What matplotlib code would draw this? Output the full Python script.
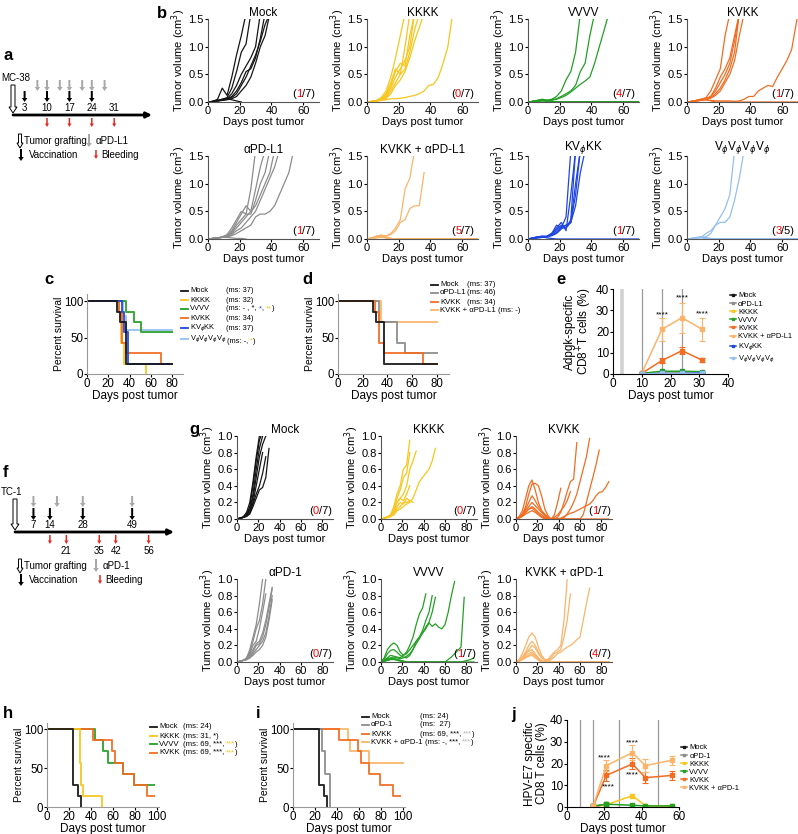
import matplotlib
matplotlib.use("Agg")
import matplotlib.pyplot as plt
from matplotlib.patches import FancyArrow
from matplotlib.lines import Line2D

plt.rcParams['font.family'] = ['Liberation Sans', 'DejaVu Sans']
plt.rcParams['font.size'] = 8
plt.rcParams['axes.linewidth'] = 0.8
plt.rcParams['xtick.major.size'] = 2
plt.rcParams['ytick.major.size'] = 2
plt.rcParams['xtick.major.pad'] = 1.2
plt.rcParams['ytick.major.pad'] = 1.2
plt.rcParams['axes.labelpad'] = 0.8

W, H = 798, 834

# colours
BLACK = '#151515'
YEL = '#f8c61c'
GRN = '#23a023'
ORG = '#f26c22'
GRY = '#8c8c8c'
LORG = '#fbb46a'
BLU = '#1f45e0'
LBLU = '#95bff0'

# ---------------- schematic a (MC-38) ----------------
A_VACC = [3, 10, 17, 24]
A_ANTI = [7, 10, 14, 17, 21, 24, 28]
A_BLEED = [10, 17, 24, 31]
A_LABELS = [3, 10, 17, 24, 31]

# ---------------- schematic f (TC-1) ----------------
F_VACC = [7, 14, 28, 49]
F_ANTI = [7, 17, 28, 49]
F_BLEED = [14, 21, 35, 42, 56]
F_BLEED_LABELS = [21, 35, 42, 56]

# ---------------- panel b : MC-38 tumour growth ----------------
B_DAYS = [0, 3, 6, 9, 12, 15, 18, 21, 24, 27, 30, 33, 36, 39, 42, 45, 48, 51, 54, 57, 60, 63, 66, 70]

MOCK_B = [
    [0, 0.01, 0.05, 0.25, 0.12, 0.45, 0.85, 1.2, 1.6],
    [0, 0.01, 0.03, 0.05, 0.08, 0.25, 0.55, 0.9, 1.05, 1.6],
    [0, 0.01, 0.02, 0.04, 0.06, 0.15, 0.3, 0.5, 0.65, 0.8, 1.0, 1.6],
    [0, 0.01, 0.02, 0.04, 0.06, 0.1, 0.2, 0.35, 0.55, 0.6, 0.8, 1.15, 1.6],
    [0, 0.01, 0.02, 0.03, 0.05, 0.08, 0.15, 0.3, 0.45, 0.65, 0.85, 1.1, 1.4, 1.6],
    [0, 0.01, 0.02, 0.03, 0.04, 0.06, 0.1, 0.2, 0.3, 0.45, 0.7, 1.0, 1.2, 1.6],
    [0, 0.01, 0.03, 0.05, 0.06, 0.04, 0.02, 0.0],
]
KKKK_B = [
    [0, 0.01, 0.03, 0.08, 0.2, 0.45, 0.8, 1.2, 1.6],
    [0, 0.01, 0.02, 0.06, 0.15, 0.35, 0.6, 0.5, 1.0, 1.6],
    [0, 0.01, 0.02, 0.05, 0.12, 0.3, 0.55, 0.7, 0.65, 1.2, 1.6],
    [0, 0.01, 0.02, 0.04, 0.1, 0.25, 0.45, 0.6, 0.75, 1.0, 1.6],
    [0, 0.01, 0.02, 0.04, 0.08, 0.2, 0.35, 0.5, 0.6, 0.9, 1.3, 1.6],
    [0, 0.01, 0.02, 0.03, 0.06, 0.15, 0.3, 0.4, 0.55, 0.8, 1.1, 1.35, 1.6],
    [0, 0.01, 0.02, 0.03, 0.04, 0.06, 0.06, 0.07, 0.08, 0.1, 0.12, 0.15, 0.2, 0.3, 0.32, 0.45, 0.7, 1.0, 1.6],
]
VVVV_B = [
    [0, 0.01, 0.03, 0.04, 0.03, 0.05, 0.1, 0.2, 0.4, 0.55, 0.9, 1.6],
    [0, 0.01, 0.02, 0.03, 0.03, 0.04, 0.06, 0.1, 0.15, 0.2, 0.3, 0.55, 0.7, 1.2, 1.6],
    [0, 0.01, 0.02, 0.02, 0.03, 0.03, 0.05, 0.08, 0.12, 0.18, 0.25, 0.32, 0.38, 0.45, 0.7, 1.0, 1.3, 1.6],
    [0, 0.01, 0.03, 0.05, 0.03, 0.01, 0, 0, 0, 0, 0, 0, 0, 0, 0, 0, 0, 0, 0, 0, 0, 0, 0, 0],
    [0, 0.01, 0.02, 0.04, 0.02, 0.01, 0, 0, 0, 0, 0, 0, 0, 0, 0, 0, 0, 0, 0, 0, 0, 0, 0, 0],
    [0, 0.01, 0.02, 0.03, 0.02, 0.01, 0, 0, 0, 0, 0, 0, 0, 0, 0, 0, 0, 0, 0, 0, 0, 0, 0, 0],
    [0, 0.01, 0.01, 0.02, 0.01, 0, 0, 0, 0, 0, 0, 0, 0, 0, 0, 0, 0, 0, 0, 0, 0, 0, 0, 0],
]
KVKK_B = [
    [0, 0.01, 0.03, 0.05, 0.08, 0.2, 0.4, 0.6, 1.2, 1.6],
    [0, 0.01, 0.03, 0.05, 0.06, 0.1, 0.25, 0.45, 0.6, 0.8, 1.2, 1.6],
    [0, 0.01, 0.02, 0.04, 0.06, 0.1, 0.2, 0.35, 0.5, 0.7, 1.1, 1.6],
    [0, 0.01, 0.02, 0.04, 0.05, 0.08, 0.15, 0.25, 0.4, 0.6, 0.9, 1.6],
    [0, 0.01, 0.02, 0.03, 0.05, 0.07, 0.12, 0.2, 0.35, 0.5, 0.75, 1.2, 1.6],
    [0, 0.01, 0.02, 0.03, 0.04, 0.03, 0.02, 0.02, 0.02, 0.02, 0.01, 0.02, 0.05, 0.1, 0.1, 0.2, 0.25, 0.3, 0.28, 0.45, 0.6, 0.75, 0.95, 1.6],
    [0, 0.01, 0.03, 0.05, 0.04, 0.02, 0, 0, 0, 0, 0, 0, 0, 0, 0, 0, 0, 0, 0, 0, 0, 0, 0, 0],
]
APDL1_B = [
    [0, 0.01, 0.02, 0.04, 0.08, 0.2, 0.35, 0.5, 0.45, 0.9, 1.6],
    [0, 0.01, 0.02, 0.03, 0.06, 0.15, 0.3, 0.45, 0.6, 0.5, 0.9, 1.3, 1.6],
    [0, 0.01, 0.02, 0.03, 0.05, 0.12, 0.25, 0.35, 0.45, 0.45, 0.7, 1.0, 1.2, 1.6],
    [0, 0.01, 0.02, 0.03, 0.05, 0.1, 0.2, 0.3, 0.4, 0.5, 0.6, 0.8, 1.0, 1.2, 1.6],
    [0, 0.01, 0.02, 0.03, 0.04, 0.08, 0.15, 0.2, 0.3, 0.4, 0.5, 0.7, 0.9, 1.1, 1.3, 1.6],
    [0, 0.01, 0.02, 0.03, 0.04, 0.06, 0.1, 0.15, 0.2, 0.25, 0.4, 0.45, 0.45, 0.5, 0.6, 0.8, 1.0, 1.2, 1.6],
    [0, 0.01, 0.02, 0.03, 0.03, 0.02, 0.01, 0.01, 0.0],
]
KPDL1_B = [
    [0, 0.02, 0.05, 0.07, 0.05, 0.1, 0.2, 0.35, 0.9, 1.1, 1.6],
    [0, 0.02, 0.04, 0.06, 0.05, 0.08, 0.15, 0.3, 0.35, 0.55, 0.6, 0.6, 1.2],
    [0, 0.02, 0.05, 0.07, 0.04, 0.01, 0, 0, 0, 0, 0, 0, 0, 0, 0, 0, 0, 0, 0, 0, 0, 0, 0, 0],
    [0, 0.02, 0.04, 0.06, 0.03, 0.01, 0, 0, 0, 0, 0, 0, 0, 0, 0, 0, 0, 0, 0, 0, 0, 0, 0, 0],
    [0, 0.01, 0.03, 0.05, 0.03, 0.01, 0, 0, 0, 0, 0, 0, 0, 0, 0, 0, 0, 0, 0, 0, 0, 0, 0, 0],
    [0, 0.01, 0.03, 0.04, 0.02, 0, 0, 0, 0, 0, 0, 0, 0, 0, 0, 0, 0, 0, 0, 0, 0, 0, 0, 0],
    [0, 0.01, 0.02, 0.03, 0.02, 0, 0, 0, 0, 0, 0, 0, 0, 0, 0, 0, 0, 0, 0, 0, 0, 0, 0, 0],
]
KVPKK_B = [
    [0, 0.02, 0.04, 0.05, 0.04, 0.1, 0.25, 0.2, 0.4, 1.6],
    [0, 0.02, 0.04, 0.05, 0.05, 0.1, 0.2, 0.3, 0.15, 0.8, 1.6],
    [0, 0.02, 0.03, 0.04, 0.05, 0.1, 0.18, 0.25, 0.2, 0.35, 1.6],
    [0, 0.01, 0.03, 0.04, 0.04, 0.08, 0.15, 0.22, 0.25, 0.3, 1.0, 1.6],
    [0, 0.01, 0.02, 0.03, 0.04, 0.07, 0.12, 0.2, 0.2, 0.3, 0.8, 1.6],
    [0, 0.01, 0.02, 0.03, 0.04, 0.06, 0.1, 0.18, 0.25, 0.3, 0.6, 1.2, 1.6],
    [0, 0.01, 0.03, 0.04, 0.02, 0.01, 0, 0, 0, 0, 0, 0, 0, 0, 0, 0, 0, 0, 0, 0, 0, 0, 0, 0],
]
VPVP_B = [
    [0, 0.01, 0.02, 0.03, 0.1, 0.15, 0.25, 0.4, 0.55, 0.8, 1.6],
    [0, 0.01, 0.02, 0.03, 0.04, 0.1, 0.25, 0.3, 0.3, 0.4, 0.7, 1.1, 1.6],
    [0, 0.01, 0.03, 0.04, 0.02, 0.01, 0, 0, 0, 0, 0, 0, 0, 0, 0, 0, 0, 0, 0, 0, 0, 0, 0, 0],
    [0, 0.01, 0.02, 0.03, 0.02, 0, 0, 0, 0, 0, 0, 0, 0, 0, 0, 0, 0, 0, 0, 0, 0, 0, 0, 0],
    [0, 0.01, 0.02, 0.02, 0.01, 0, 0, 0, 0, 0, 0, 0, 0, 0, 0, 0, 0, 0, 0, 0, 0, 0, 0, 0],
]

# ---------------- panel g : TC-1 tumour growth ----------------
G_DAYS = [0, 3, 6, 9, 12, 15, 18, 21, 24, 27, 30, 33, 36, 39, 42, 45, 48, 51, 54, 57,
          60, 63, 66, 69, 72, 75, 78, 81, 84, 87]

MOCK_G = [
    [0, 0.01, 0.03, 0.08, 0.2, 0.45, 0.75, 1.0],
    [0, 0.01, 0.02, 0.06, 0.15, 0.4, 0.7, 0.95, 1.05],
    [0, 0.01, 0.02, 0.05, 0.12, 0.3, 0.6, 0.85, 1.0],
    [0, 0.01, 0.02, 0.05, 0.1, 0.25, 0.5, 0.75, 0.9, 1.0],
    [0, 0.01, 0.02, 0.04, 0.08, 0.2, 0.4, 0.6, 0.8],
    [0, 0.01, 0.02, 0.04, 0.08, 0.18, 0.3, 0.4, 0.55, 0.75],
    [0, 0.01, 0.02, 0.03, 0.06, 0.15, 0.25, 0.35, 0.38, 0.5, 0.85],
]
KKKK_G = [
    [0, 0.01, 0.02, 0.05, 0.15, 0.3, 0.4, 0.6, 0.65, 0.95],
    [0, 0.01, 0.02, 0.04, 0.1, 0.25, 0.35, 0.5, 0.55, 0.8],
    [0, 0.01, 0.03, 0.05, 0.1, 0.2, 0.25, 0.3, 0.4, 0.6, 0.7, 0.82],
    [0, 0.01, 0.02, 0.04, 0.1, 0.2, 0.25, 0.22, 0.3, 0.4],
    [0, 0.01, 0.02, 0.03, 0.08, 0.15, 0.2, 0.18, 0.25, 0.22],
    [0, 0.01, 0.02, 0.03, 0.06, 0.12, 0.15, 0.2, 0.2, 0.22, 0.2],
    [0, 0.01, 0.02, 0.03, 0.05, 0.1, 0.12, 0.15, 0.18, 0.2, 0.25, 0.35, 0.45, 0.5, 0.55, 0.6, 0.7, 0.85],
]
KVKK_G = [
    [0, 0.03, 0.1, 0.25, 0.4, 0.47, 0.35, 0.2, 0.1, 0.04, 0.01, 0, 0.05, 0.2, 0.37],
    [0, 0.02, 0.06, 0.15, 0.3, 0.42, 0.43, 0.4, 0.28, 0.12, 0.04, 0, 0, 0.02, 0.08, 0.2, 0.33, 0.45, 0.48, 0.92],
    [0, 0.02, 0.05, 0.12, 0.2, 0.28, 0.22, 0.15, 0.1, 0.06, 0.02, 0, 0, 0, 0, 0.02, 0.06, 0.12, 0.2, 0.3,
     0.45, 0.6, 0.75, 0.97],
    [0, 0.02, 0.05, 0.1, 0.15, 0.2, 0.16, 0.12, 0.08, 0.04, 0.01, 0, 0, 0, 0, 0, 0, 0, 0, 0,
     0, 0.05, 0.2, 0.35, 0.5, 0.65, 0.83],
    [0, 0.01, 0.04, 0.08, 0.12, 0.15, 0.12, 0.08, 0.05, 0.02, 0, 0, 0, 0, 0.01, 0.03, 0.05, 0.07, 0.08, 0.1,
     0.12, 0.14, 0.16, 0.18, 0.22, 0.28, 0.32, 0.33, 0.38, 0.45],
    [0, 0.02, 0.05, 0.08, 0.12, 0.13, 0.1, 0.06, 0.03, 0.01, 0, 0, 0.02, 0.05, 0.1, 0.15, 0.22, 0.33],
    [0, 0.01, 0.03, 0.06, 0.08, 0.1, 0.08, 0.05, 0.02, 0, 0, 0, 0, 0, 0, 0, 0, 0, 0, 0,
     0, 0, 0, 0, 0, 0, 0, 0, 0, 0],
]
APD1_G = [
    [0, 0.01, 0.02, 0.05, 0.15, 0.3, 0.45, 0.7, 1.0],
    [0, 0.01, 0.02, 0.04, 0.12, 0.25, 0.4, 0.5, 0.7, 1.0],
    [0, 0.01, 0.02, 0.04, 0.1, 0.2, 0.25, 0.4, 0.6, 0.82],
    [0, 0.01, 0.02, 0.03, 0.08, 0.15, 0.22, 0.25, 0.35, 0.5, 0.7, 0.9],
    [0, 0.01, 0.02, 0.03, 0.06, 0.12, 0.2, 0.22, 0.3, 0.45, 0.65, 0.88],
    [0, 0.01, 0.02, 0.03, 0.05, 0.1, 0.15, 0.2, 0.25, 0.35, 0.55, 0.8],
    [0, 0.01, 0.02, 0.03, 0.05, 0.08, 0.12, 0.15, 0.2, 0.3, 0.5, 0.75],
]
VVVV_G = [
    [0, 0.05, 0.15, 0.2, 0.23, 0.2, 0.12, 0.08, 0.12, 0.2, 0.3, 0.45, 0.58, 0.65, 0.82],
    [0, 0.03, 0.1, 0.14, 0.15, 0.12, 0.08, 0.06, 0.05, 0.08, 0.15, 0.25, 0.3, 0.35, 0.4, 0.47, 0.43, 0.46, 0.42, 0.4,
     0.45, 0.6, 0.8, 0.97],
    [0, 0.02, 0.05, 0.08, 0.07, 0.06, 0.05, 0.08, 0.1, 0.15, 0.2, 0.25, 0.3, 0.38, 0.5, 0.6, 0.8],
    [0, 0.02, 0.04, 0.05, 0.06, 0.05, 0.04, 0.05, 0.07, 0.1, 0.15, 0.22, 0.28, 0.35, 0.42, 0.48, 0.6, 0.78],
    [0, 0.02, 0.03, 0.04, 0.04, 0.03, 0.02, 0.01, 0, 0, 0, 0, 0, 0, 0, 0, 0, 0, 0, 0,
     0, 0.03, 0.06, 0.1, 0.14, 0.18, 0.78],
    [0, 0.01, 0.02, 0.03, 0.03, 0.02, 0.01, 0, 0, 0, 0, 0, 0, 0, 0, 0, 0, 0, 0, 0,
     0, 0, 0, 0, 0, 0, 0.01, 0.02, 0.03, 0.05],
    [0, 0.01, 0.02, 0.03, 0.04, 0.03, 0.02, 0.01, 0, 0, 0, 0, 0, 0, 0, 0, 0, 0, 0, 0,
     0, 0, 0, 0, 0, 0, 0, 0, 0, 0],
]
KPD1_G = [
    [0, 0.03, 0.1, 0.2, 0.3, 0.35, 0.3, 0.18, 0.08, 0.03, 0.03, 0.08, 0.12, 0.15, 0.2, 0.5, 1.0],
    [0, 0.02, 0.06, 0.12, 0.2, 0.25, 0.2, 0.12, 0.06, 0.02, 0.02, 0.05, 0.1, 0.12, 0.15, 0.3, 0.5, 0.82],
    [0, 0.02, 0.05, 0.1, 0.15, 0.2, 0.17, 0.1, 0.05, 0.02, 0.01, 0.03, 0.06, 0.1, 0.12, 0.15, 0.18, 0.2, 0.23, 0.27,
     0.3, 0.5, 0.7, 0.89],
    [0, 0.02, 0.05, 0.1, 0.13, 0.15, 0.1, 0.05, 0.02, 0, 0, 0, 0, 0, 0, 0, 0, 0, 0, 0,
     0, 0, 0, 0, 0, 0, 0, 0, 0, 0],
    [0, 0.02, 0.04, 0.08, 0.1, 0.12, 0.08, 0.04, 0.01, 0, 0, 0, 0, 0, 0, 0, 0, 0, 0, 0,
     0, 0, 0, 0, 0, 0, 0, 0, 0, 0],
    [0, 0.01, 0.03, 0.06, 0.08, 0.1, 0.07, 0.03, 0.01, 0, 0, 0, 0, 0, 0, 0, 0, 0, 0, 0,
     0, 0, 0, 0, 0, 0, 0, 0, 0, 0],
    [0, 0.01, 0.03, 0.05, 0.07, 0.08, 0.05, 0.02, 0, 0, 0, 0, 0, 0, 0, 0, 0, 0, 0, 0,
     0, 0, 0, 0, 0, 0, 0, 0, 0, 0],
]

# ---------------- survival (days, percent) ----------------
C_MOCK = ([0, 28, 31, 37, 80], [100, 85.7, 71.4, 14.3, 14.3])
C_KKKK = ([0, 30, 32, 35, 55], [100, 85.7, 42.9, 14.3, 0])
C_VVVV = ([0, 37, 44, 51, 80], [100, 85.7, 71.4, 57.1, 57.1])
C_KVKK = ([0, 30, 33, 37, 69, 80], [100, 85.7, 42.9, 28.6, 14.3, 14.3])
C_KVPKK = ([0, 33, 35, 38, 80], [100, 85.7, 57.1, 14.3, 14.3])
C_VPVP = ([0, 34, 37, 80], [100, 80, 60, 60])

D_APDL1 = ([0, 33, 48, 54, 80], [100, 71.4, 42.9, 28.6, 28.6])
D_KPDL1 = ([0, 35, 80], [100, 71.4, 71.4])

H_MOCK = ([0, 24, 28, 31], [100, 28.6, 14.3, 0])
H_KKKK = ([0, 30, 31, 33, 50], [100, 57.1, 28.6, 14.3, 0])
H_VVVV = ([0, 44, 51, 56, 69, 79, 97], [100, 85.7, 71.4, 57.1, 42.9, 28.6, 28.6])
H_KVKK = ([0, 42, 59, 62, 69, 79, 91, 97], [100, 85.7, 71.4, 57.1, 42.9, 28.6, 14.3, 14.3])
I_APD1 = ([0, 26, 29, 34], [100, 71.4, 42.9, 0])
I_KPD1 = ([0, 41, 50, 52, 69, 100], [100, 100, 85.7, 71.4, 57.1, 57.1])

# ---------------- immunogenicity e (Adpgk) ----------------
E_DAYS = [10, 17, 24, 31]
E_VACC = [3, 10, 17, 24]
E_MOCK = [0, 0, 0, 0]
E_APDL1 = [0, 0.3, 0.3, 0.3]
E_KKKK = [0, 0.5, 0.5, 0.5]
E_VVVV = [0.3, 1.3, 1.3, 1.1]
E_KVKK = [0.3, 6.3, 11.0, 6.5]
E_KVKK_ERR = [0, 1.0, 1.5, 1.0]
E_KPDL1 = [0.3, 21.0, 26.5, 21.0]
E_KPDL1_ERR = [0, 5.5, 7.0, 5.5]
E_KVPKK = [0, 0.3, 0.3, 0.6]
E_VPVP = [0, 0.3, 0.3, 0.3]
E_STARS = ([17, 24, 31], [28, 36, 28.5])

# ---------------- immunogenicity j (HPV-E7) ----------------
J_DAYS = [14, 21, 35, 42, 56]
J_VACC = [7, 14, 28, 49]
J_MOCK = [0.3, 1.2]
J_APD1 = [0.3, 1.0]
J_KKKK = [0.3, 1.0, 5.2, 0.6, 0.3]
J_VVVV = [0.3, 1.3, 0.8, 0.5, 0.5]
J_KVKK = [0.3, 14.5, 19.8, 13.5, 14.5]
J_KVKK_ERR = [0, 2.5, 2.5, 2.5, 2.0]
J_KPD1 = [0.3, 19.0, 25.0, 19.0, 21.5]
J_KPD1_ERR = [0, 2.5, 3.5, 3.0, 2.0]
J_STARS = ([20, 35, 35, 22], [22.5, 29.5, 14.7, 9.2])

PHI = r'$_{\phi}$'

fig = plt.figure(figsize=(W / 100, H / 100), dpi=100)


def px_axes(left, top, width, height):
    ax = fig.add_axes([left / W, 1 - (top + height) / H, width / W, height / H])
    ax.spines['top'].set_visible(False)
    ax.spines['right'].set_visible(False)
    return ax


def ratio(ax, free, total, x, y, size=8):
    t = ax.text(x, y, '(', transform=ax.transAxes, fontsize=size, va='bottom')
    t = ax.annotate(free, xy=(1, 0), xycoords=t, color='red', fontsize=size, va='bottom')
    ax.annotate('/' + total + ')', xy=(1, 0), xycoords=t, fontsize=size, va='bottom')


def growth(ax, days, mice, color, title, free, total, xmax, ymax, xticks, yticks, rx):
    for vol in mice:
        n = min(len(vol), len(days))
        ax.plot(days[:n], vol[:n], color=color, lw=0.9)
    ax.set_xlim(0, xmax)
    ax.set_ylim(0, ymax)
    ax.set_xticks(xticks)
    ax.set_yticks(yticks)
    ax.set_yticklabels(['%.1f' % v for v in yticks])
    ax.set_title(title, fontsize=8.5, pad=2)
    ax.set_xlabel('Days post tumor', labelpad=0.3)
    ax.set_ylabel('Tumor volume (cm$^3$)', labelpad=0.3)
    for s in ('left', 'bottom'):
        ax.spines[s].set_color('#555555')
    ratio(ax, free, total, rx, 0.04)


# panel b
b_specs = [
    ('Mock', MOCK_B, BLACK, '1', '7'),
    ('KKKK', KKKK_B, YEL, '0', '7'),
    ('VVVV', VVVV_B, GRN, '4', '7'),
    ('KVKK', KVKK_B, ORG, '1', '7'),
    ('αPD-L1', APDL1_B, GRY, '1', '7'),
    ('KVKK + αPD-L1', KPDL1_B, LORG, '5', '7'),
    ('KV' + PHI + 'KK', KVPKK_B, BLU, '1', '7'),
    ('V' + PHI + 'V' + PHI + 'V' + PHI + 'V' + PHI, VPVP_B, LBLU, '3', '5'),
]
b_lefts = [208, 367, 528, 687]
b_tops = [19, 156]
for i, (title, mice, col, fr, tot) in enumerate(b_specs):
    ax = px_axes(b_lefts[i % 4], b_tops[i // 4], 111, 83)
    growth(ax, B_DAYS, mice, col, title, fr, tot, 70, 1.5, [0, 20, 40, 60], [0, 0.5, 1.0, 1.5], 0.76)

# panel g
g_specs = [
    ('Mock', MOCK_G, BLACK, '0', '7'),
    ('KKKK', KKKK_G, YEL, '0', '7'),
    ('KVKK', KVKK_G, ORG, '1', '7'),
    ('αPD-1', APD1_G, GRY, '0', '7'),
    ('VVVV', VVVV_G, GRN, '1', '7'),
    ('KVKK + αPD-1', KPD1_G, LORG, '4', '7'),
]
g_lefts = [237, 381, 516]
g_tops = [436, 579]
for i, (title, mice, col, fr, tot) in enumerate(g_specs):
    ax = px_axes(g_lefts[i % 3], g_tops[i // 3], 96, 83)
    growth(ax, G_DAYS, mice, col, title, fr, tot, 90, 1.0, [0, 20, 40, 60, 80],
           [0, 0.2, 0.4, 0.6, 0.8, 1.0], 0.75)


def survival(ax, curves, xlim, ylim, xticks):
    for (d, p), col in curves:
        ax.step(d, p, where='post', color=col, lw=1.4, alpha=0.9)
    ax.set_xlim(0, xlim)
    ax.set_ylim(0, ylim)
    ax.set_xticks(xticks)
    ax.set_yticks([0, 50, 100])
    ax.set_xlabel('Days post tumor', fontsize=8.5, labelpad=0)
    ax.set_ylabel('Percent survival', fontsize=7.5, labelpad=0)
    ax.tick_params(labelsize=8.3, pad=0.6)
    for s in ('left', 'bottom'):
        ax.spines[s].set_color('#999999')


# panel c
ax_c = px_axes(87, 294, 96, 80)
survival(ax_c, [(C_VPVP, LBLU), (C_VVVV, GRN), (C_KKKK, YEL), (C_KVKK, ORG),
                (C_KVPKK, BLU), (C_MOCK, BLACK)], 90, 110, [0, 20, 40, 60, 80])

# panel d
ax_d = px_axes(338, 294, 111, 80)
survival(ax_d, [(D_KPDL1, LORG), (D_APDL1, GRY), (C_KVKK, ORG), (C_MOCK, BLACK)],
         90, 110, [0, 20, 40, 60, 80])

# panel h
ax_h = px_axes(47, 723, 112, 84)
survival(ax_h, [(H_VVVV, GRN), (H_KVKK, ORG), (H_KKKK, YEL), (H_MOCK, BLACK)],
         102, 108, [0, 20, 40, 60, 80, 100])

# panel i
ax_i = px_axes(293, 723, 112, 84)
survival(ax_i, [(I_KPD1, LORG), (H_KVKK, ORG), (I_APD1, GRY), (H_MOCK, BLACK)],
         102, 108, [0, 20, 40, 60, 80, 100])


def immuno(ax, days, series, vacc, xlim, xticks, stars, ylabel, anchor_y, wide_first):
    for k, v in enumerate(vacc):
        if k == 0 and wide_first:
            ax.axvline(v, color='#d2d2d2', lw=2.6, zorder=0)
        else:
            ax.axvline(v, color='#9a9a9a', lw=0.9, zorder=0)
    for name, vals, col, err in series:
        d = days[:len(vals)]
        ax.plot(d, vals, color=col, marker='s', ms=2.4, lw=1.1, label=name)
        if err is not None:
            ax.errorbar(d, vals, yerr=err, color=col, lw=0.8, capsize=2, capthick=0.8, fmt='none')
    for sx, sy in zip(*stars):
        ax.text(sx, sy, '****', ha='center', va='center', fontsize=6)
    ax.set_xlim(0, xlim)
    ax.set_ylim(0, 40)
    ax.set_xticks(xticks)
    ax.set_yticks([0, 10, 20, 30, 40])
    ax.set_xlabel('Days post tumor', fontsize=8.5, labelpad=0)
    ax.set_ylabel(ylabel, fontsize=8.5, linespacing=1.05, labelpad=1)
    ax.tick_params(labelsize=8.5, pad=0.8)
    ax.legend(loc='upper left', bbox_to_anchor=(1.0, anchor_y), frameon=False, fontsize=5.4,
              handlelength=0.8, handletextpad=0.35, labelspacing=0.12, borderaxespad=0.1,
              markerscale=0.8, borderpad=0.1)


ax_e = px_axes(613, 289, 115, 85)
immuno(ax_e, E_DAYS, [
    ('Mock', E_MOCK, BLACK, None),
    ('αPD-L1', E_APDL1, GRY, None),
    ('KKKK', E_KKKK, YEL, None),
    ('VVVV', E_VVVV, GRN, None),
    ('KVKK', E_KVKK, ORG, E_KVKK_ERR),
    ('KVKK + αPD-L1', E_KPDL1, LORG, E_KPDL1_ERR),
    ('KV' + PHI + 'KK', E_KVPKK, BLU, None),
    ('V' + PHI + 'V' + PHI + 'V' + PHI + 'V' + PHI, E_VPVP, LBLU, None),
], E_VACC, 40, [0, 10, 20, 30, 40], E_STARS, 'Adpgk-specific\nCD8$^{+}$T cells (%)', 0.98, True)

ax_j = px_axes(567, 720, 112, 87)
immuno(ax_j, J_DAYS, [
    ('Mock', J_MOCK, BLACK, None),
    ('αPD-1', J_APD1, GRY, None),
    ('KKKK', J_KKKK, YEL, None),
    ('VVVV', J_VVVV, GRN, None),
    ('KVKK', J_KVKK, ORG, J_KVKK_ERR),
    ('KVKK + αPD-1', J_KPD1, LORG, J_KPD1_ERR),
], J_VACC, 60, [0, 20, 40, 60], J_STARS, 'HPV-E7 specific\nCD8 T cells (%)', 0.74, False)

# ---------------- overlay (schematics, legends, letters) ----------------
ov = fig.add_axes([0, 0, 1, 1])
ov.set_xlim(0, W)
ov.set_ylim(H, 0)
ov.axis('off')


def arrow(x, y0, y1, color, width=2.0, head=5.5, hl=4.0, hollow=False):
    ov.add_patch(FancyArrow(x, y0, 0, y1 - y0, width=width, head_width=head, head_length=hl,
                            length_includes_head=True,
                            fc='white' if hollow else color, ec='black' if hollow else color,
                            lw=0.7 if hollow else 0))


def rich(x, y, parts, size=5.6, after=None):
    if after is None:
        t = ov.text(x, y, parts[0][0], color=parts[0][1], fontsize=size, va='center', ha='left')
        rest = parts[1:]
    else:
        t = after
        rest = parts
    for s, c in rest:
        t = ov.annotate(s, xy=(1, 0), xycoords=t, color=c, fontsize=size, va='bottom', ha='left')
    return t


def schematic(x0, scale, line_y, line_end, name, name_y, graft_top, vacc, vacc_y, anti, anti_y,
              bleed, bleed_y, top_labels, bottom_labels, leg_y, anti_name, anti_leg_x, bleed_leg_x):
    def px(d):
        return x0 + scale * d
    ov.annotate('', xy=(line_end, line_y), xytext=(x0 - 2, line_y),
                arrowprops=dict(arrowstyle='-|>', lw=2, color='black', mutation_scale=8,
                                shrinkA=0, shrinkB=0))
    ov.text(1, name_y, name, fontsize=7, va='center', ha='left')
    arrow(px(0) - 2, graft_top, line_y - 2, 'k', width=4, head=8, hl=6, hollow=True)
    for d in anti:
        arrow(px(d), anti_y[0], anti_y[1], '#a8a8a8')
    for d in vacc:
        arrow(px(d), vacc_y[0], vacc_y[1], 'black')
    for d in bleed:
        arrow(px(d), bleed_y[0], bleed_y[1], '#e8231c', width=1.5, head=4, hl=3.5)
    for d in top_labels:
        ov.text(px(d), line_y - 2, str(d), fontsize=7, ha='center', va='bottom')
    for d in bottom_labels:
        ov.text(px(d), bleed_y[1] + 2, str(d), fontsize=7, ha='center', va='top')
    arrow(20, leg_y - 7, leg_y + 7, 'k', width=3, head=6, hl=5, hollow=True)
    ov.text(24, leg_y, 'Tumor grafting', fontsize=7, va='center')
    arrow(anti_leg_x, leg_y - 7, leg_y + 6, '#a8a8a8')
    ov.text(anti_leg_x + 7, leg_y, anti_name, fontsize=7, va='center')
    arrow(21, leg_y + 8, leg_y + 20, 'black')
    ov.text(29, leg_y + 14, 'Vaccination', fontsize=7, va='center')
    arrow(bleed_leg_x, leg_y + 9, leg_y + 18, '#e8231c', width=1.5, head=4, hl=3.5)
    ov.text(bleed_leg_x + 5, leg_y + 14, 'Bleeding', fontsize=7, va='center')


schematic(15, 3.2, 115, 152, 'MC-38', 78, 85, A_VACC, (91, 102), A_ANTI, (80, 91),
          A_BLEED, (118, 127), A_LABELS, [], 141, 'αPD-L1', 89, 96)
schematic(17, 2.35, 532, 174, 'TC-1', 492, 499, F_VACC, (508, 520), F_ANTI, (496, 507),
          F_BLEED, (535, 544), F_VACC, F_BLEED_LABELS, 566, 'αPD-1', 96, 100)

# survival legends
c_leg = [
    ('Mock', BLACK, [('(ms: 37)', 'k')]),
    ('KKKK', YEL, [('(ms: 32)', 'k')]),
    ('VVVV', GRN, [('(ms: - , *, ', 'k'), ('*', BLU), (', ', 'k'), ('**', YEL), (')', 'k')]),
    ('KVKK', ORG, [('(ms: 34)', 'k')]),
    ('KV' + PHI + 'KK', BLU, [('(ms: 37)', 'k')]),
    ('V' + PHI + 'V' + PHI + 'V' + PHI + 'V' + PHI + ' ', LBLU, [('(ms: -, ', 'k'), ('*', YEL), (')', 'k')]),
]
d_leg = [
    ('Mock', BLACK, [('(ms: 37)', 'k')]),
    ('αPD-L1', GRY, [('(ms: 46)', 'k')]),
    ('KVKK', ORG, [('(ms: 34)', 'k')]),
    ('KVKK + αPD-L1 ', LORG, [('(ms: -)', 'k')]),
]
h_leg = [
    ('Mock', BLACK, [('(ms: 24)', 'k')]),
    ('KKKK', YEL, [('(ms: 31, *)', 'k')]),
    ('VVVV', GRN, [('(ms: 69, ***, ', 'k'), ('***', YEL), (')', 'k')]),
    ('KVKK', ORG, [('(ms: 69, ***, ', 'k'), ('***', YEL), (')', 'k')]),
]
i_leg = [
    ('Mock', BLACK, [('(ms: 24)', 'k')]),
    ('αPD-1', GRY, [('(ms:  27)', 'k')]),
    ('KVKK', ORG, [('(ms: 69, ***, ', 'k'), ('***', '#b0b0b0'), (')', 'k')]),
    ('KVKK + αPD-1 ', LORG, [('(ms: -, ***, ', 'k'), ('***', '#b0b0b0'), (')', 'k')]),
]


def surv_legend(entries, x, rows, ms_x, size=5.6):
    for (name, col, ms), y in zip(entries, rows):
        ov.add_line(Line2D([x, x + 7], [y, y], color=col, lw=1.3))
        t = ov.text(x + 9, y, name, fontsize=size, va='center')
        if name.endswith(' '):
            rich(0, 0, ms, size, after=t)
        else:
            rich(ms_x, y, ms, size)


surv_legend(c_leg, 181, [291, 300, 309, 318, 328, 339], 226, size=5.4)
surv_legend(d_leg, 431, [285, 293, 302, 310], 467)
surv_legend(h_leg, 150, [727, 736, 744, 753], 183)
surv_legend(i_leg, 362, [717, 725, 734, 742], 420)

# panel letters
for letter, x, y in [('a', 3, 55), ('b', 157, 13), ('c', 44, 280), ('d', 302, 280),
                     ('e', 556, 280), ('f', 3, 472), ('g', 189, 429), ('h', 3, 714),
                     ('i', 256, 714), ('j', 511, 714)]:
    ov.text(x, y, letter, fontsize=12, fontweight='bold', va='center', ha='left')

fig.savefig('out.png', dpi=100)
